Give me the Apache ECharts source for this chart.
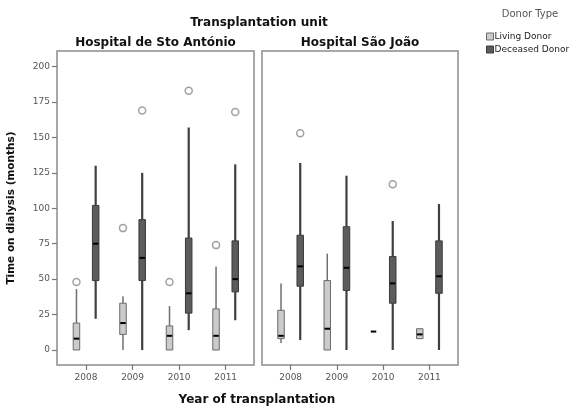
<!DOCTYPE html>
<html>
<head>
<meta charset="utf-8">
<script src="https://cdn.jsdelivr.net/npm/echarts@6/dist/echarts.min.js"></script>
<style>html,body{margin:0;padding:0;background:#fff}#c{width:577px;height:407px}</style>
</head>
<body>
<div id="c"></div>
<script>
// Categories and ticks
const years = ['2008', '2009', '2010', '2011'];
const yTicks = [0, 25, 50, 75, 100, 125, 150, 175, 200];
// Box stats per year: [min, q1, median, q3, max]
const antonioLiving   = [[0, 0, 8, 19, 43], [0, 11, 19, 33, 38], [0, 0, 10, 17, 31], [0, 0, 10, 29, 59]];
const antonioDeceased = [[22, 49, 75, 102, 130], [0, 49, 65, 92, 125], [14, 26, 40, 79, 157], [21, 41, 50, 77, 131]];
const joaoLiving      = [[5, 8, 10, 28, 47], [0, 0, 15, 49, 68], [13, 13, 13, 13, 13], [8, 8, 11, 15, 15]];
const joaoDeceased    = [[7, 45, 59, 81, 132], [0, 42, 58, 87, 123], [0, 33, 47, 66, 91], [0, 40, 52, 77, 103]];
// Outliers: [yearIndex, value]
const antonioLivingOut   = [[0, 48], [1, 86], [2, 48], [3, 74]];
const antonioDeceasedOut = [[1, 169], [2, 183], [3, 168]];
const joaoLivingOut      = [];
const joaoDeceasedOut    = [[0, 153], [2, 117]];

const FONT = 'DejaVu Sans';
const OFF = 9.6;   // px offset of each box from category center
const BW = 6.5;    // box width px

const styles = {
  living:   { fill: '#cbcbcb', stroke: '#6a6a6a', whisker: '#6f6f6f', ww: 1.5 },
  deceased: { fill: '#5c5c5c', stroke: '#3a3a3a', whisker: '#3f3f3f', ww: 2.2 }
};

function toRows(stats) { return stats.map((s, i) => [i].concat(s)); }

function boxRender(kind, dx) {
  const st = styles[kind];
  return function (params, api) {
    const idx = api.value(0);
    const x = api.coord([idx, 0])[0] + dx;
    const p = [1, 2, 3, 4, 5].map(k => api.coord([idx, api.value(k)])[1]);
    const children = [];
    if (p[0] !== p[1]) children.push({ type: 'line', shape: { x1: x, y1: p[0], x2: x, y2: p[1] }, style: { stroke: st.whisker, lineWidth: st.ww } });
    if (p[3] !== p[4]) children.push({ type: 'line', shape: { x1: x, y1: p[3], x2: x, y2: p[4] }, style: { stroke: st.whisker, lineWidth: st.ww } });
    if (p[1] !== p[3]) children.push({ type: 'rect', shape: { x: x - BW / 2, y: p[3], width: BW, height: p[1] - p[3] }, style: { fill: st.fill, stroke: st.stroke, lineWidth: 1 } });
    children.push({ type: 'line', shape: { x1: x - BW / 2 + 0.5, y1: p[2], x2: x + BW / 2 - 0.5, y2: p[2] }, style: { stroke: '#000', lineWidth: 2 } });
    return { type: 'group', children: children };
  };
}

function boxSeries(name, kind, stats, axisIdx, dx) {
  return {
    type: 'custom', name: name, xAxisIndex: axisIdx, yAxisIndex: axisIdx,
    data: toRows(stats), encode: { x: 0, y: [1, 2, 3, 4, 5] },
    renderItem: boxRender(kind, dx), silent: true,
    itemStyle: { color: styles[kind].fill, borderColor: styles[kind].stroke }
  };
}
function outSeries(data, axisIdx, dx) {
  return {
    type: 'scatter', name: 'outlier', xAxisIndex: axisIdx, yAxisIndex: axisIdx,
    data: data, symbol: 'circle', symbolSize: 7, symbolOffset: [dx, 0], silent: true,
    itemStyle: { color: '#fff', borderColor: '#8a8a8a', borderWidth: 1.5 }
  };
}

const yMin = -10.6, yMax = 211;

const chart = echarts.init(document.getElementById('c'), null, { renderer: 'canvas' });
chart.setOption({
  animation: false,
  backgroundColor: '#fff',
  grid: [
    { left: 62.8, width: 186.1, top: 51, height: 314 },
    { left: 267.5, width: 185, top: 51, height: 314 },
    { left: 57, width: 197, top: 51, height: 314, show: true, borderColor: '#8c8c8c', borderWidth: 1.5, backgroundColor: 'transparent' },
    { left: 262, width: 196, top: 51, height: 314, show: true, borderColor: '#8c8c8c', borderWidth: 1.5, backgroundColor: 'transparent' }
  ],
  xAxis: [0, 1].map(i => ({
    type: 'category', gridIndex: i, data: years, boundaryGap: true,
    axisLine: { show: false, onZero: false },
    axisTick: { show: true, alignWithLabel: true, length: 5, lineStyle: { color: '#777', width: 1.2 } },
    axisLabel: { fontFamily: FONT, fontSize: 9, color: '#555', margin: 8 },
    splitLine: { show: false }
  })).concat([2, 3].map(i => ({ type: 'value', gridIndex: i, show: false, min: 0, max: 1 }))),
  yAxis: [
    {
      type: 'value', gridIndex: 0, min: yMin, max: yMax, offset: 5.8,
      name: 'Time on dialysis (months)', nameLocation: 'middle', nameGap: 40,
      nameTextStyle: { fontFamily: FONT, fontSize: 10.5, fontWeight: 'bold', color: '#111' },
      axisLine: { show: false },
      axisTick: { show: true, length: 5, customValues: yTicks, lineStyle: { color: '#777', width: 1.2 } },
      axisLabel: { fontFamily: FONT, fontSize: 9, color: '#555', margin: 7, customValues: yTicks },
      splitLine: { show: false }
    },
    {
      type: 'value', gridIndex: 1, min: yMin, max: yMax,
      axisLine: { show: false }, axisTick: { show: false }, axisLabel: { show: false }, splitLine: { show: false }
    },
    { type: 'value', gridIndex: 2, show: false, min: 0, max: 1 },
    { type: 'value', gridIndex: 3, show: false, min: 0, max: 1 }
  ],
  legend: {
    orient: 'vertical', left: 481, top: 27, itemWidth: 7, itemHeight: 7, itemGap: 4,
    selectedMode: false, icon: 'rect',
    textStyle: { fontFamily: FONT, fontSize: 9, color: '#222', padding: [0, 0, 0, -4] },
    data: [
      { name: 'Living Donor', itemStyle: { color: '#cbcbcb', borderColor: '#6a6a6a', borderWidth: 1 } },
      { name: 'Deceased Donor', itemStyle: { color: '#5c5c5c', borderColor: '#3a3a3a', borderWidth: 1 } }
    ]
  },
  graphic: [
    { type: 'text', x: 259, y: 23, style: { text: 'Transplantation unit', textAlign: 'center', textVerticalAlign: 'middle', font: 'bold 12px "DejaVu Sans"', fill: '#111' } },
    { type: 'text', x: 155.5, y: 43, style: { text: 'Hospital de Sto António', textAlign: 'center', textVerticalAlign: 'middle', font: 'bold 12px "DejaVu Sans"', fill: '#111' } },
    { type: 'text', x: 360, y: 43, style: { text: 'Hospital São João', textAlign: 'center', textVerticalAlign: 'middle', font: 'bold 12px "DejaVu Sans"', fill: '#111' } },
    { type: 'text', x: 257, y: 400, style: { text: 'Year of transplantation', textAlign: 'center', textVerticalAlign: 'middle', font: 'bold 12px "DejaVu Sans"', fill: '#111' } },
    { type: 'text', x: 530, y: 14, style: { text: 'Donor Type', textAlign: 'center', textVerticalAlign: 'middle', font: '10px "DejaVu Sans"', fill: '#555' } }
  ],
  series: [
    boxSeries('Living Donor', 'living', antonioLiving, 0, -OFF),
    boxSeries('Deceased Donor', 'deceased', antonioDeceased, 0, OFF),
    boxSeries('Living Donor', 'living', joaoLiving, 1, -OFF),
    boxSeries('Deceased Donor', 'deceased', joaoDeceased, 1, OFF),
    outSeries(antonioLivingOut, 0, -OFF),
    outSeries(antonioDeceasedOut, 0, OFF),
    outSeries(joaoLivingOut, 1, -OFF),
    outSeries(joaoDeceasedOut, 1, OFF)
  ]
});
</script>
</body>
</html>
